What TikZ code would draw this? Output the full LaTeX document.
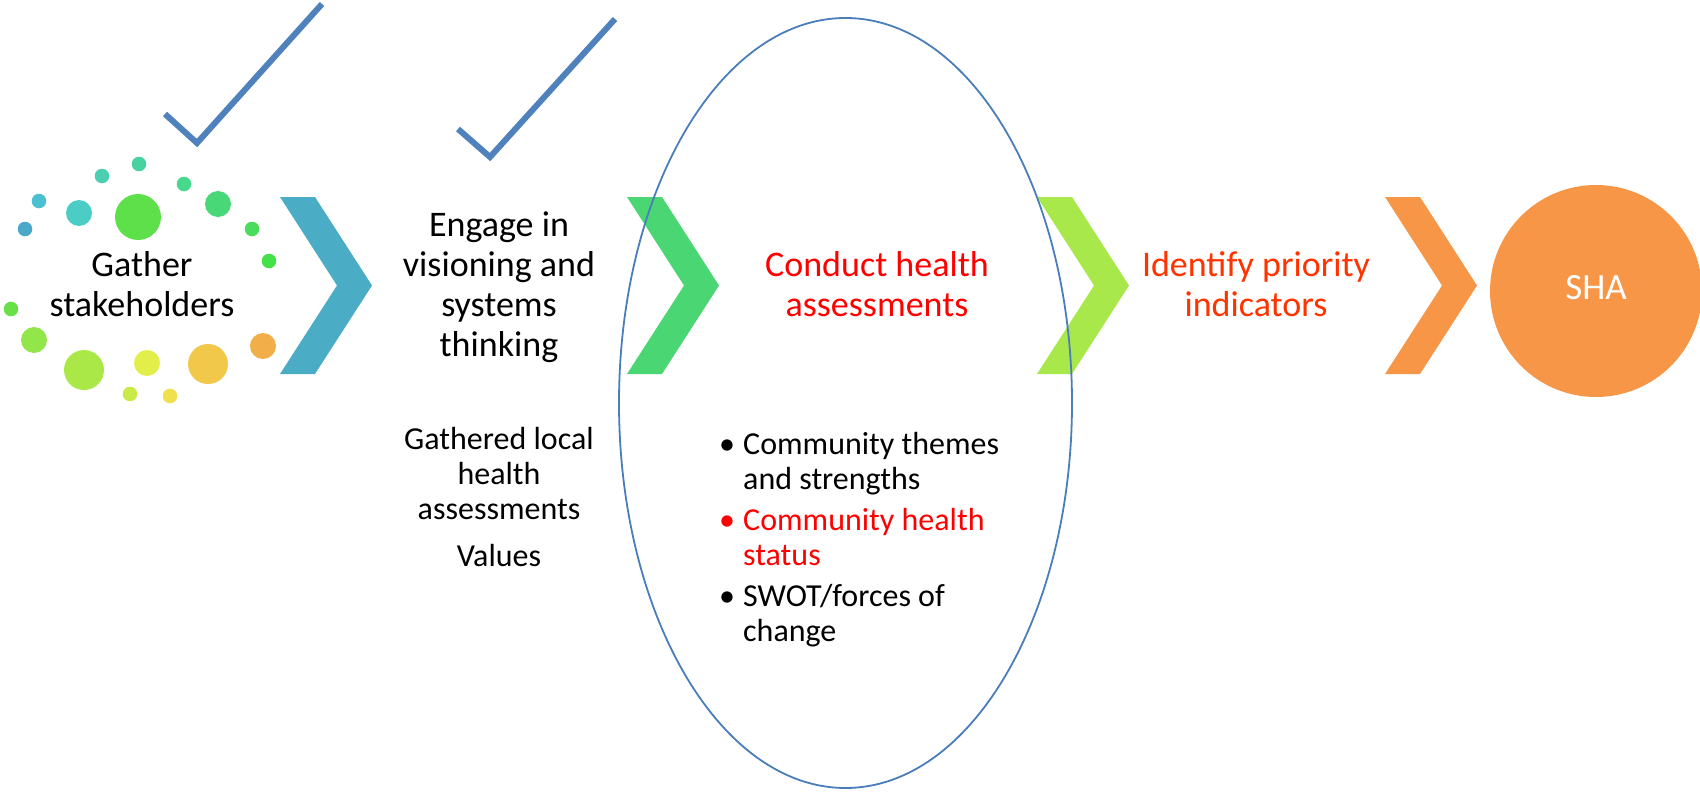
\documentclass[tikz,border=0pt]{standalone}
\usepackage{fontspec}
\setmainfont{Carlito}
\usetikzlibrary{shapes.geometric}
\definecolor{Teal}{HTML}{4BACC6}
\definecolor{Green}{HTML}{4AD672}
\definecolor{Lime}{HTML}{A9E84B}
\definecolor{Orange}{HTML}{F79646}
\definecolor{Steel}{HTML}{4F81BD}
\definecolor{Outline}{HTML}{4A7EBB}
\definecolor{Red}{HTML}{FF0000}
\definecolor{Vermilion}{HTML}{FF3300}
% dot colours, blue round to yellow
\definecolor{DotA}{HTML}{4AA8C8}
\definecolor{DotB}{HTML}{4BC0D0}
\definecolor{DotC}{HTML}{4BCDC6}
\definecolor{DotD}{HTML}{4AD0B0}
\definecolor{DotE}{HTML}{48D2A0}
\definecolor{DotF}{HTML}{5EE04A}
\definecolor{DotG}{HTML}{48D88C}
\definecolor{DotH}{HTML}{48D878}
\definecolor{DotI}{HTML}{4BDC5E}
\definecolor{DotJ}{HTML}{46E04A}
\definecolor{DotK}{HTML}{6AE048}
\definecolor{DotL}{HTML}{92E64A}
\definecolor{DotM}{HTML}{AAE848}
\definecolor{DotN}{HTML}{E2EE4A}
\definecolor{DotO}{HTML}{F2C84A}
\definecolor{DotP}{HTML}{F2AE48}
\definecolor{DotQ}{HTML}{CAEA4A}
\definecolor{DotR}{HTML}{F0E04E}
\newcommand{\bul}[1][black]{\makebox[24pt][l]{\textcolor{#1}{\textbullet}}}

\begin{document}
\begin{tikzpicture}[x=1pt,y=-1pt,
  stage/.style={align=center,inner sep=0pt,font=\fontsize{36}{40}\selectfont},
  note/.style={align=center,inner sep=0pt,font=\fontsize{32}{35}\selectfont},
  bullets/.style={anchor=north west,inner sep=0pt,font=\fontsize{32}{35}\selectfont},
  checkmark/.style={draw=Steel,line width=6pt},
  chev/.pic={\path[pic actions] (0,0) -- (35,0) -- (92,88.5) -- (35,177) -- (0,177) -- (57,88.5) -- cycle;}]
\useasboundingbox (0,0) rectangle (1700,792);
% dots round the first stage
\fill[DotA] (25,229) circle (7.3); \fill[DotB] (39,201) circle (7.3); \fill[DotC] (79,213) circle (13);
\fill[DotD] (102,176) circle (7.3); \fill[DotE] (139,164) circle (7.3); \fill[DotF] (138,217) circle (23);
\fill[DotG] (184,184) circle (7.3); \fill[DotH] (218,204) circle (13); \fill[DotI] (252,229) circle (7.3);
\fill[DotJ] (269,261) circle (7.3); \fill[DotK] (11,309) circle (7.3); \fill[DotL] (34,340) circle (13);
\fill[DotM] (84,370) circle (20); \fill[DotN] (147,363) circle (13); \fill[DotO] (208,364) circle (20);
\fill[DotP] (263,346) circle (13); \fill[DotQ] (130,394) circle (7.3); \fill[DotR] (170,396) circle (7.3);
% chevrons
\pic[fill=Teal] at (280,197) {chev};
\pic[fill=Green] at (627,197) {chev};
\pic[fill=Lime] at (1037,197) {chev};
\pic[fill=Orange] at (1385,197) {chev};
% ticks
\draw[checkmark] (165,114) -- (197,143) -- (322,4);
\draw[checkmark] (458,129) -- (490,157) -- (615,19);
\node[ellipse,draw=Outline,line width=1.8pt,minimum width=453pt,minimum height=770pt] (focus) at (845.5,403) {};
\node[stage] (gather) at (142,288) {\strut Gather\\stakeholders\strut};
\node[stage] (engage) at (499,288) {\strut Engage in\\visioning and\\systems\\thinking\strut};
\node[stage,text=Red] (conduct) at (877,288) {\strut Conduct health\\assessments\strut};
\node[stage,text=Vermilion] (identify) at (1256,288) {\strut Identify priority\\indicators\strut};
\node[circle,fill=Orange,minimum size=212pt,text=white,font=\fontsize{37}{40}\selectfont] (sha) at (1596,291) {\strut SHA};
\node[note] (found) at (499,500.5) {\strut Gathered local\\health\\assessments\\[12pt]Values\strut};
\node[bullets] (parts) at (719,429.5) {\begin{tabular}{@{}l@{}l@{}}
  \bul & Community themes\\
       & and strengths\\[6pt]
  \bul[Red] & \color{Red}Community health\\
       & \color{Red}status\\[6pt]
  \bul & SWOT/forces of\\
       & change
\end{tabular}};
\end{tikzpicture}
\end{document}
